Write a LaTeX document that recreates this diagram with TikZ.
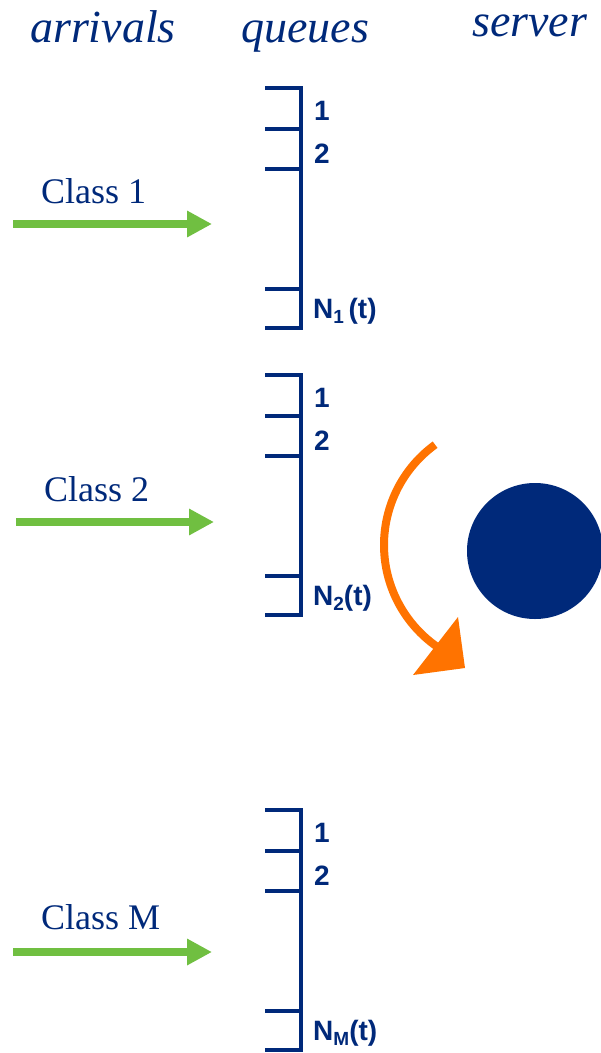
\documentclass[tikz,border=0pt]{standalone}
\usepackage{fontspec}
\setmainfont{Liberation Serif}
\newfontfamily\lsans{Liberation Sans}
\usetikzlibrary{arrows.meta}
\definecolor{navy}{RGB}{0,41,122}
\definecolor{agreen}{RGB}{112,191,65}
\definecolor{aorange}{RGB}{255,115,0}
\tikzset{
  header/.style={anchor=base west,inner sep=0pt,text=navy,font=\fontsize{46}{46}\selectfont\itshape},
  classlbl/.style={anchor=base west,inner sep=0pt,text=navy,font=\fontsize{36}{36}\selectfont},
  poslbl/.style={anchor=base west,inner sep=0pt,text=navy,font=\lsans\bfseries\fontsize{28}{28}\selectfont},
  queueline/.style={draw=navy,line width=3.6pt,line join=miter},
  arrivalarrow/.style={draw=agreen,line width=8pt,-{Triangle[length=25pt,width=25pt]}},
  server/.style={circle,fill=navy,draw=none,minimum size=136pt,inner sep=0pt},
}
\newcommand{\sbs}[1]{\raisebox{-5pt}{\fontsize{19}{19}\selectfont #1}}
\begin{document}
\begin{tikzpicture}[x=1pt,y=-1pt]
\useasboundingbox (0,0) rectangle (601,1053);
\clip (0,0) rectangle (601,1053);
% headers
\node[header] (harr) at (30,42) {arrivals};
\node[header] (hque) at (241,42) {queues};
\node[header] (hser) at (472,36) {server};
% class labels
\node[classlbl] (c1) at (41,203) {Class 1};
\node[classlbl] (c2) at (44,501) {Class 2};
\node[classlbl] (cM) at (41,929) {Class M};
% arrivals arrows
\coordinate (a1s) at (13,224); \coordinate (a1e) at (212,224);
\coordinate (a2s) at (16,522); \coordinate (a2e) at (214,522);
\coordinate (aMs) at (13,952); \coordinate (aMe) at (212,952);
\draw[arrivalarrow] (a1s) -- (a1e);
\draw[arrivalarrow] (a2s) -- (a2e);
\draw[arrivalarrow] (aMs) -- (aMe);
% queues
\foreach \t/\n/\lab in {88/1/{N\sbs{1}\,(t)}, 375/2/{N\sbs{2}(t)}, 810/M/{N\sbs{M}(t)}}{
  \draw[queueline] (265,\t) -- (301,\t) -- (301,\t+240) -- (265,\t+240);
  \draw[queueline] (265,\t+41) -- (301,\t+41);
  \draw[queueline] (265,\t+81) -- (301,\t+81);
  \draw[queueline] (265,\t+201) -- (301,\t+201);
  \node[poslbl] (q\n a) at (314,\t+32) {1};
  \node[poslbl] (q\n b) at (314,\t+75) {2};
  \node[poslbl] (q\n n) at (313,\t+230) {\lab};
}
% server
\node[server] (srv) at (535,551) {};
% orange rotating arrow
\coordinate (oc) at (508,545);
\coordinate (ostart) at ([shift={(234:124)}]oc);
\coordinate (otip) at (465,668);
\coordinate (obase1) at (458,617);
\coordinate (obase2) at (413,675);
\draw[draw=aorange,line width=8pt] (ostart) arc[start angle=234,end angle=124,radius=124];
\fill[aorange] (obase1) -- (otip) -- (obase2) -- cycle;
\end{tikzpicture}
\end{document}
